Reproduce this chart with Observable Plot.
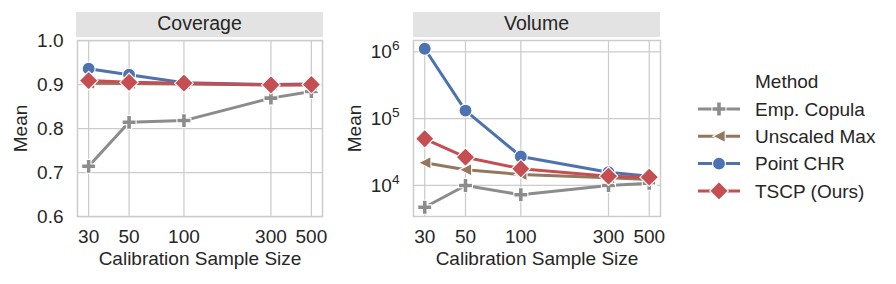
<!DOCTYPE html>
<html><head><meta charset="utf-8">
<script src="https://cdn.jsdelivr.net/npm/d3@7"></script>
<script src="https://cdn.jsdelivr.net/npm/@observablehq/plot@0.6"></script>
<style>
body{margin:0;background:#fff;}
#wrap{position:relative;width:896px;height:284px;font-family:"Liberation Sans",Arial,sans-serif;color:#262626;overflow:hidden;}
.strip{position:absolute;top:12px;height:25px;background:#e3e3e3;font-size:19.5px;line-height:22px;text-align:center;color:#262626;}
.panel{position:absolute;top:0;}
#legend{position:absolute;left:0;top:0;}
</style></head><body><div id="wrap"></div>
<script>
const sizes = [30, 50, 100, 300, 500];
const methods = ["Emp. Copula", "Unscaled Max", "Point CHR", "TSCP (Ours)"];
const colors = ["#8c8c8c", "#937860", "#4c72b0", "#c44e52"];
const coverageEmpCopula = [0.714, 0.814, 0.818, 0.869, 0.884];
const coverageUnscaledMax = [0.903, 0.902, 0.901, 0.899, 0.899];
const coveragePointCHR = [0.936, 0.922, 0.904, 0.900, 0.901];
const coverageTSCP = [0.909, 0.905, 0.903, 0.899, 0.900];
const volumeEmpCopula = [4730, 10000, 7260, 10000, 10800];
const volumeUnscaledMax = [21900, 17200, 14600, 13000, 12300];
const volumePointCHR = [1110000, 132000, 27200, 15800, 13800];
const volumeTSCP = [50000, 26500, 17800, 13800, 13300];
const xTickLabels = ["30", "50", "100", "300", "500"];
const yTicksCoverage = [0.6, 0.7, 0.8, 0.9, 1.0];
const yTicksVolume = [1e4, 1e5, 1e6];
const panelTitles = ["Coverage", "Volume"];

const coverage = [coverageEmpCopula, coverageUnscaledMax, coveragePointCHR, coverageTSCP];
const volume = [volumeEmpCopula, volumeUnscaledMax, volumePointCHR, volumeTSCP];
const rows = [];
methods.forEach((m, i) => sizes.forEach((s, j) => rows.push({method: m, size: s, coverage: coverage[i][j], volume: volume[i][j]})));
const xTicks = sizes.map((s, i) => ({size: s, label: xTickLabels[i]}));

// marker shapes (seaborn: P, <, o, D)
const rad = s => Math.sqrt(s / Math.PI);
const symPlus = {draw(c, s) { const r = rad(s), t = r / 3;
  c.moveTo(-t, -r); c.lineTo(t, -r); c.lineTo(t, -t); c.lineTo(r, -t); c.lineTo(r, t); c.lineTo(t, t);
  c.lineTo(t, r); c.lineTo(-t, r); c.lineTo(-t, t); c.lineTo(-r, t); c.lineTo(-r, -t); c.lineTo(-t, -t); c.closePath(); }};
const symLeft = {draw(c, s) { const r = rad(s); c.moveTo(-r, 0); c.lineTo(r, -r); c.lineTo(r, r); c.closePath(); }};
const symCircle = {draw(c, s) { const r = rad(s); c.moveTo(r, 0); c.arc(0, 0, r, 0, 2 * Math.PI); c.closePath(); }};
const symDiamond = {draw(c, s) { const r = rad(s); c.moveTo(0, -r); c.lineTo(r, 0); c.lineTo(0, r); c.lineTo(-r, 0); c.closePath(); }};
const symbols = [symPlus, symLeft, symCircle, symDiamond];
const symR = [7, 6.2, 6.5, 9.3];

const xDomain = [30 / Math.exp(0.1407), 500 * Math.exp(0.1407)];
const grid = "#cccccc";
const font = '"Liberation Sans", Arial, sans-serif';

function makePanel(key, yScale, yTicks, yFmt, mLeft, mRight, labelOffsetY) {
  const marks = [
    Plot.gridX(sizes, {stroke: grid, strokeOpacity: 1, strokeWidth: 1.25}),
    Plot.gridY(yTicks, {stroke: grid, strokeOpacity: 1, strokeWidth: 1.25}),
    Plot.frame({stroke: grid, strokeWidth: 1.5}),
    Plot.axisX(sizes, {tickSize: 0, tickPadding: 13, tickFormat: () => "", label: "Calibration Sample Size",
      labelAnchor: "center", labelArrow: "none", labelOffset: 48.5}),
    Plot.text(xTicks, {x: "size", text: "label", frameAnchor: "bottom", lineAnchor: "top", dy: 13, fill: "currentColor"}),
    Plot.axisY(yTicks, {tickSize: 0, tickPadding: 14, tickFormat: yFmt, label: "Mean",
      labelAnchor: "center", labelArrow: "none", labelOffset: labelOffsetY})
  ];
  methods.forEach((m, i) => {
    const d = rows.filter(r => r.method === m);
    marks.push(Plot.line(d, {x: "size", y: key, stroke: colors[i], strokeWidth: 3}));
    marks.push(Plot.dot(d, {x: "size", y: key, fill: colors[i], stroke: "white", strokeWidth: 1.1, r: symR[i], symbol: symbols[i]}));
  });
  return Plot.plot({
    width: 340, height: 284,
    marginLeft: mLeft, marginRight: mRight, marginTop: 40, marginBottom: 68,
    style: {fontSize: "19px", fontFamily: font, color: "#262626", background: "transparent", overflow: "visible"},
    x: {type: "log", domain: xDomain},
    y: yScale,
    marks
  });
}

const wrap = document.getElementById("wrap");
const p1 = makePanel("coverage", {type: "linear", domain: [0.6, 1.0]}, yTicksCoverage, d3.format(".1f"), 77, 18, 64);
const p2 = makePanel("volume", {type: "log", domain: [10 ** 3.536, 10 ** 6.169]}, yTicksVolume,
  d => `10^${Math.round(Math.log10(d))}`, 73, 20, 66);

// superscript exponents on the log axis
const ns = "http://www.w3.org/2000/svg";
p2.querySelectorAll("text").forEach(t => {
  if (t.childElementCount) return;
  const m = t.textContent.match(/^10\^(\d+)$/);
  if (!m) return;
  t.textContent = "";
  const a = document.createElementNS(ns, "tspan"); a.textContent = "10";
  const b = document.createElementNS(ns, "tspan"); b.textContent = m[1];
  b.setAttribute("dy", "-0.55em"); b.setAttribute("font-size", "0.72em");
  t.append(a, b);
});

[p1, p2].forEach((p, i) => {
  const div = document.createElement("div");
  div.className = "panel"; div.style.left = (i * 340) + "px";
  div.appendChild(p); wrap.appendChild(div);
});

// facet strips
[[76, 247], [413, 247]].forEach(([l, w], i) => {
  const s = document.createElement("div");
  s.className = "strip"; s.style.left = l + "px"; s.style.width = w + "px";
  s.textContent = panelTitles[i];
  wrap.appendChild(s);
});

// legend
const lg = d3.select(wrap).append("svg").attr("id", "legend").attr("width", 896).attr("height", 284)
  .style("font-family", font).style("font-size", "19px");
lg.append("text").attr("x", 755).attr("y", 88).attr("fill", "#262626").text("Method");
methods.forEach((m, i) => {
  const y = 109 + i * 27.3;
  lg.append("line").attr("x1", 698).attr("x2", 740).attr("y1", y).attr("y2", y)
    .attr("stroke", colors[i]).attr("stroke-width", 3);
  lg.append("path").attr("transform", `translate(719,${y})`)
    .attr("d", d3.symbol(symbols[i], Math.PI * symR[i] * symR[i])())
    .attr("fill", colors[i]).attr("stroke", "white").attr("stroke-width", 1.1);
  lg.append("text").attr("x", 755).attr("y", y + 6.8).attr("fill", "#262626").text(m);
});
</script></body></html>
